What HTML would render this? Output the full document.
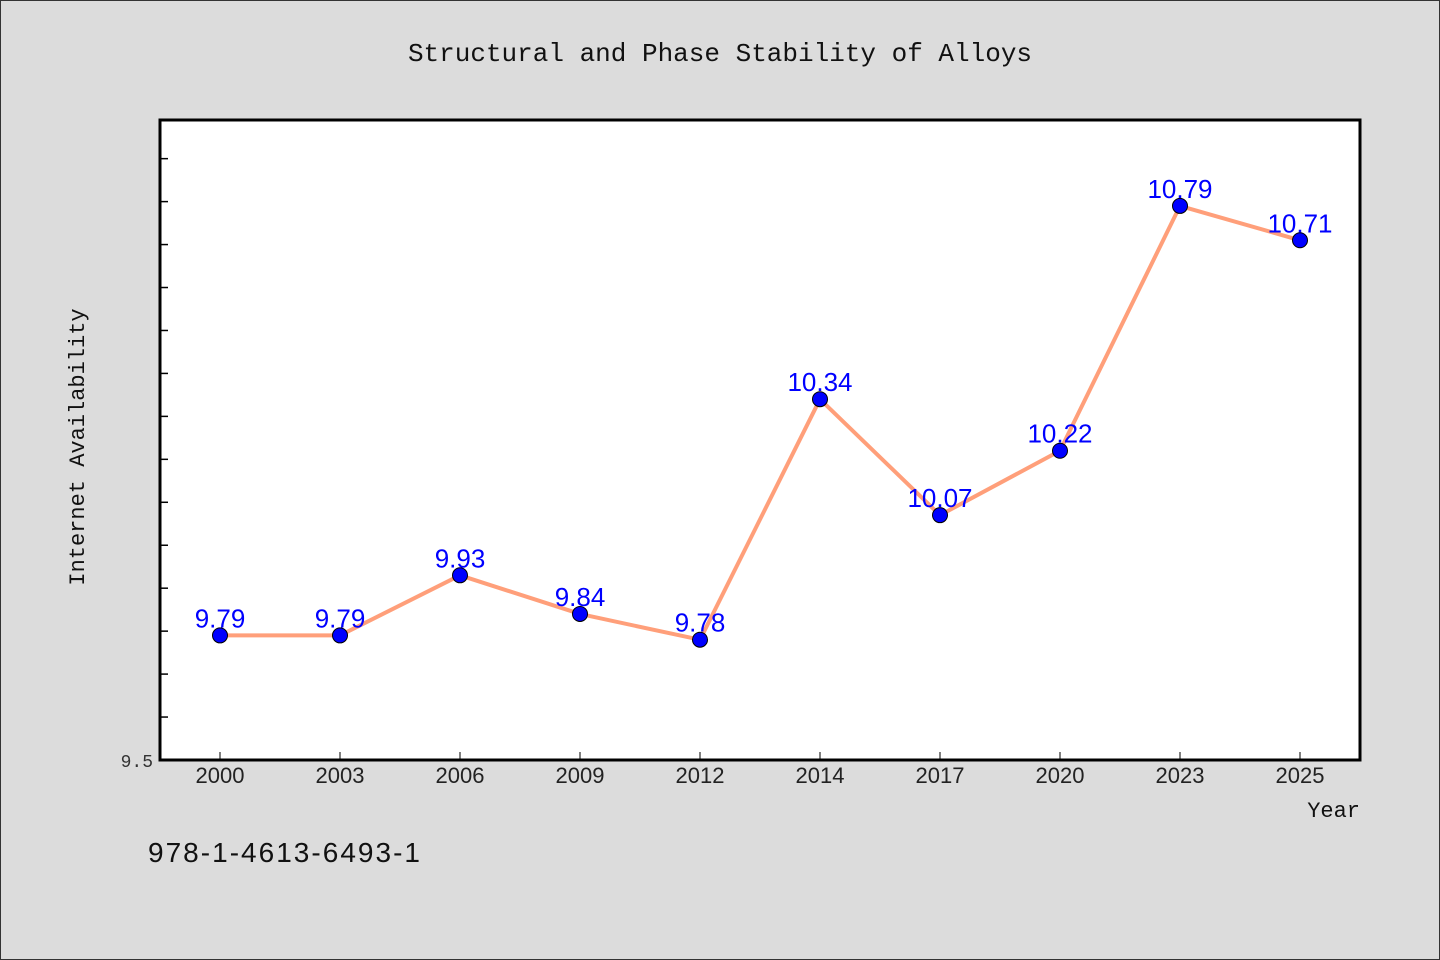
<!DOCTYPE html>
<html><head><meta charset="utf-8"><style>
body{margin:0;background:#dcdcdc;}
svg{display:block}
text{font-family:"Liberation Mono","DejaVu Sans Mono",monospace;}
</style></head><body>
<svg id="chart" width="1440" height="960">
<rect x="0.5" y="0.5" width="1439" height="959" fill="#dcdcdc" stroke="#333"/>
<text x="720" y="61" text-anchor="middle" font-size="26" fill="#111">Structural and Phase Stability of Alloys</text>
<rect x="160" y="120" width="1200" height="640" fill="#fff" stroke="#000" stroke-width="3"/>
<text transform="translate(84,447) rotate(-90)" text-anchor="middle" font-size="22" fill="#111">Internet Availability</text>
<text x="1360" y="817" text-anchor="end" font-size="22" fill="#111">Year</text>
<text x="148" y="862" font-size="28" fill="#111" textLength="272" style="font-family:'Liberation Sans',sans-serif">978-1-4613-6493-1</text>
<g id="ticks"></g><g id="marks"></g>
</svg>
<script>
const categories=["2000","2003","2006","2009","2012","2014","2017","2020","2023","2025"];
const values=[9.79,9.79,9.93,9.84,9.78,10.34,10.07,10.22,10.79,10.71];
const yTickValues=[9.5,9.6,9.7,9.8,9.9,10.0,10.1,10.2,10.3,10.4,10.5,10.6,10.7,10.8,10.9];
const yLabels=["9.5"];
const NS="http://www.w3.org/2000/svg";
const yMin=9.5,yMax=10.99,plotTop=120,plotBot=760;
function ys(v){return plotBot-(v-yMin)/(yMax-yMin)*(plotBot-plotTop);}
function xs(i){return 220+i*120;}
function mk(t,a,p){const e=document.createElementNS(NS,t);for(const k in a)e.setAttribute(k,a[k]);p.appendChild(e);return e;}
const tg=document.getElementById('ticks'),mg=document.getElementById('marks');
yTickValues.forEach(v=>{const l=mk('line',{x1:160,x2:168,y1:ys(v),y2:ys(v),stroke:'#000','stroke-width':1.5},tg);

});
yLabels.forEach(s=>{const t=mk('text',{x:153,y:ys(+s)+7,'text-anchor':'end','font-size':18,fill:'#333'},tg);t.textContent=s;

});
categories.forEach((c,i)=>{const l=mk('line',{x1:xs(i),x2:xs(i),y1:752,y2:760,stroke:'#000','stroke-width':1},tg);


const t=mk('text',{x:xs(i),y:783,'text-anchor':'middle','font-size':22,fill:'#222',style:"font-family:'Liberation Sans',sans-serif"},tg);t.textContent=c;

});
const pl=mk('polyline',{points:values.map((v,i)=>xs(i)+','+ys(v)).join(' '),fill:'none',stroke:'#ff9f7a','stroke-width':4,'stroke-linejoin':'round'},mg);


values.forEach((v,i)=>{const c=mk('circle',{cx:xs(i),cy:ys(v),r:7.5,fill:'#0000ff',stroke:'#000','stroke-width':1},mg);


const t=mk('text',{x:xs(i),y:ys(v)-8,'text-anchor':'middle','font-size':26,fill:'#0000ff',style:"font-family:'Liberation Sans',sans-serif"},mg);t.textContent=v.toFixed(2);

});
</script>
</body></html>
